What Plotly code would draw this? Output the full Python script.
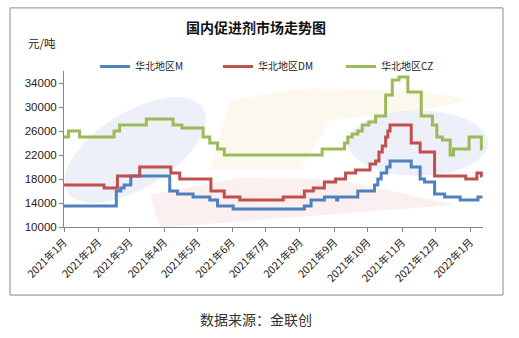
import math
import plotly.graph_objects as go

# ---------------- data (change points of step series) ----------------
m_dates = ["2021-01-01", "2021-02-17", "2021-02-21", "2021-02-24", "2021-03-02", "2021-04-06",
           "2021-04-13", "2021-04-27", "2021-05-12", "2021-05-19", "2021-06-02", "2021-08-05",
           "2021-08-11", "2021-08-23", "2021-09-03", "2021-09-04", "2021-09-22", "2021-10-07",
           "2021-10-10", "2021-10-13", "2021-10-18", "2021-10-21", "2021-11-09", "2021-11-17",
           "2021-11-21", "2021-11-30", "2021-12-09", "2021-12-23", "2022-01-08", "2022-01-12"]
m_values = [13500, 16000, 16500, 17000, 18500, 16000,
            15500, 15000, 14500, 13500, 13000, 13500,
            14500, 15000, 14500, 15000, 16000, 17000,
            18000, 19000, 20000, 21000, 20000, 18000,
            17500, 15500, 15000, 14500, 15000, 15000]

dm_dates = ["2021-01-01", "2021-02-06", "2021-02-18", "2021-03-10", "2021-04-07", "2021-04-15",
            "2021-05-13", "2021-05-25", "2021-06-08", "2021-07-17", "2021-08-05", "2021-08-13",
            "2021-08-23", "2021-09-02", "2021-09-11", "2021-09-20", "2021-10-03", "2021-10-08",
            "2021-10-11", "2021-10-14", "2021-10-17", "2021-10-19", "2021-10-21", "2021-11-09",
            "2021-11-17", "2021-11-30", "2021-12-28", "2022-01-07", "2022-01-11", "2022-01-12"]
dm_values = [17000, 16500, 18500, 20000, 19000, 18000,
             16000, 15000, 14500, 15000, 16000, 16500,
             17500, 18000, 19000, 19500, 20500, 21000,
             22500, 23500, 25000, 26000, 27000, 24000,
             22500, 18500, 18000, 19000, 18500, 18500]

cz_dates = ["2021-01-01", "2021-01-05", "2021-01-15", "2021-02-15", "2021-02-20", "2021-03-16",
            "2021-04-09", "2021-04-17", "2021-05-06", "2021-05-12", "2021-05-19", "2021-05-25",
            "2021-08-21", "2021-09-10", "2021-09-13", "2021-09-17", "2021-09-22", "2021-09-26",
            "2021-10-02", "2021-10-08", "2021-10-17", "2021-10-23", "2021-10-29", "2021-11-06",
            "2021-11-18", "2021-11-28", "2021-12-02", "2021-12-07", "2021-12-14", "2021-12-17",
            "2021-12-31", "2022-01-11", "2022-01-12"]
cz_values = [25000, 26000, 25000, 26000, 27000, 28000,
             27000, 26500, 25000, 24000, 23000, 22000,
             23000, 24000, 25000, 25500, 26000, 27000,
             27500, 28500, 32000, 34500, 35000, 32500,
             28500, 27000, 25000, 24500, 22000, 23000,
             25000, 23000, 23000]

series_names = ["华北地区M", "华北地区DM", "华北地区CZ"]
tick_dates = ["2021-01-01", "2021-02-01", "2021-03-01", "2021-04-01", "2021-05-01", "2021-06-01",
              "2021-07-01", "2021-08-01", "2021-09-01", "2021-10-01", "2021-11-01", "2021-12-01",
              "2022-01-01"]
tick_labels = ["2021年1月", "2021年2月", "2021年3月", "2021年4月", "2021年5月", "2021年6月",
               "2021年7月", "2021年8月", "2021年9月", "2021年10月", "2021年11月", "2021年12月",
               "2022年1月"]
y_ticks = [10000, 14000, 18000, 22000, 26000, 30000, 34000]
y_tick_labels = ["10000", "14000", "18000", "22000", "26000", "30000", "34000"]

# ---------------- layout geometry ----------------
W, H = 519, 338
L, R, T, B = 64, 483, 70.5, 227.5


def px(xp):
    return (xp - L) / (R - L)


def py(yp):
    return (B - yp) / (B - T)


def ellipse_path(cx, cy, rx, ry, ang_deg, n=48):
    a = math.radians(ang_deg)
    pts = []
    for i in range(n):
        t = 2 * math.pi * i / n
        x = rx * math.cos(t)
        y = ry * math.sin(t)
        xr = cx + x * math.cos(a) - y * math.sin(a)
        yr = cy + x * math.sin(a) + y * math.cos(a)
        pts.append((px(xr), py(yr)))
    return "M " + " L ".join(f"{x:.4f},{y:.4f}" for x, y in pts) + " Z"


def poly_path(points):
    return "M " + " L ".join(f"{px(x):.4f},{py(y):.4f}" for x, y in points) + " Z"


colors = ["#4F81BD", "#C0504D", "#9BBB59"]
fig = go.Figure()
for name, d, v, c in zip(series_names, [m_dates, dm_dates, cz_dates],
                         [m_values, dm_values, cz_values], colors):
    fig.add_trace(go.Scatter(x=d, y=v, mode="lines", name=name,
                             line=dict(color=c, width=3, shape="hv")))

# faint watermark shapes (background logo)
wm = [
    dict(path=poly_path([(210, 170), (230, 100), (300, 88), (420, 90), (470, 100), (420, 110),
                         (330, 120), (300, 170)]), fill="rgba(250,238,210,0.4)"),
    dict(path=ellipse_path(135, 150, 80, 38, -32), fill="rgba(210,218,238,0.4)"),
    dict(path=ellipse_path(418, 143, 70, 33, 0), fill="rgba(210,218,238,0.4)"),
    dict(path=poly_path([(150, 195), (240, 178), (340, 180), (455, 205), (330, 215), (160, 228)]),
         fill="rgba(244,214,214,0.4)"),
]
shapes = [dict(type="path", xref="paper", yref="paper", path=s["path"], fillcolor=s["fill"],
               line=dict(width=0), layer="below") for s in wm]
shapes.append(dict(type="rect", xref="paper", yref="paper",
                   x0=px(10), x1=px(503), y0=py(296), y1=py(7),
                   line=dict(color="#8c8c8c", width=1), fillcolor="rgba(0,0,0,0)",
                   layer="below"))

cjk = "Noto Sans CJK SC"
fig.update_layout(
    width=W, height=H,
    margin=dict(l=L, r=W - R, t=T, b=H - B, pad=0),
    paper_bgcolor="white", plot_bgcolor="rgba(0,0,0,0)",
    showlegend=True,
    legend=dict(orientation="h", x=px(95), xanchor="left", y=py(66), yanchor="middle",
                font=dict(family=cjk, size=10, color="#222"),
                entrywidth=78, entrywidthmode="pixels", itemwidth=30,
                bgcolor="rgba(0,0,0,0)"),
    xaxis=dict(type="date", range=["2021-01-01", "2022-01-12 12:00"],
               tickmode="array", tickvals=tick_dates, ticktext=tick_labels,
               tickangle=-45, ticks="outside", ticklen=4, tickcolor="#868686",
               showline=True, linecolor="#868686", linewidth=1,
               showgrid=False, zeroline=False,
               tickfont=dict(family=cjk, size=10.5, color="#222")),
    yaxis=dict(range=[10000, 36000], tickmode="array", tickvals=y_ticks,
               ticktext=y_tick_labels,
               ticks="outside", ticklen=4, tickcolor="#868686",
               showline=True, linecolor="#868686", linewidth=1,
               showgrid=False, zeroline=False,
               tickfont=dict(family="Liberation Sans, Arial", size=11.5, color="#222")),
    shapes=shapes,
    annotations=[
        dict(text="<b>国内促进剂市场走势图</b>", xref="paper", yref="paper",
             x=px(256), y=py(26), xanchor="center", yanchor="middle", showarrow=False,
             font=dict(family=cjk, size=14, color="#111")),
        dict(text="元/吨", xref="paper", yref="paper",
             x=px(26), y=py(42), xanchor="left", yanchor="middle", showarrow=False,
             font=dict(family=cjk, size=11.5, color="#222")),
        dict(text="数据来源：金联创", xref="paper", yref="paper",
             x=px(256), y=py(320), xanchor="center", yanchor="middle", showarrow=False,
             font=dict(family=cjk, size=14, color="#333")),
    ],
)

fig.write_html("out.html")
